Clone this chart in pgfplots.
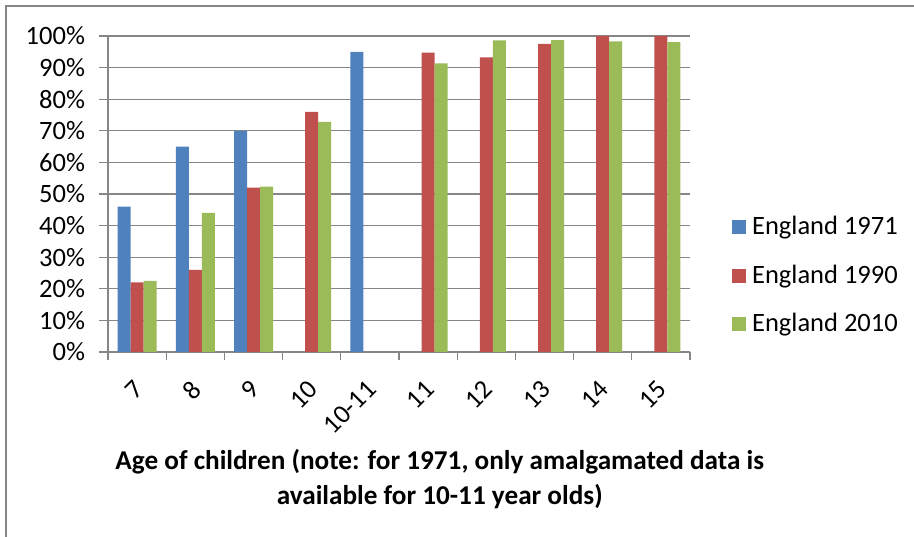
\documentclass[border=0pt]{standalone}
\usepackage{fontspec}
\setmainfont{Carlito}
\usepackage{pgfplots}
\pgfplotsset{compat=1.18}
\definecolor{e71}{RGB}{79,129,189}
\definecolor{e90}{RGB}{192,80,77}
\definecolor{e10}{RGB}{155,187,89}
\definecolor{gridc}{RGB}{134,134,134}
\pgfplotsset{sqlegend/.style={legend image code/.code={\fill[#1] (0bp,-7bp) rectangle (14bp,7bp);}}}
\begin{document}
\fontsize{26.5bp}{31.8bp}\selectfont
\begin{tikzpicture}
\path[use as bounding box] (0,0) rectangle (914bp,537bp);
\draw[gridc, line width=1.3bp] (6bp,0) -- (6bp,531bp) -- (914bp,531bp);
\begin{axis}[
  at={(108bp,185bp)}, anchor=south west,
  scale only axis, width=582bp, height=316bp,
  ybar=0pt, bar width=13bp, sqlegend,
  xmin=0, xmax=10, ymin=0, ymax=100,
  axis x line*=bottom, axis y line*=left,
  axis line style={gridc, line width=1.3bp},
  tick align=outside,
  ymajorgrids, grid style={gridc, line width=1.3bp},
  ytick={0,10,...,100},
  yticklabel={\pgfmathprintnumber{\tick}\%},
  /pgf/number format/assume math mode=true,
  major tick length=9bp, minor tick length=8bp,
  every tick/.style={gridc, line width=1.3bp},
  every major x tick/.style={draw=none},
  xtick={0.5,1.5,...,9.5},
  minor xtick={0,1,...,10},
  xticklabels={7,8,9,10,10-11,11,12,13,14,15},
  xticklabel style={yshift=-18bp, xshift=8bp, rotate=45, anchor=east},
  yticklabel style={xshift=-5bp},
  ticklabel style={font=\fontsize{26.5bp}{31.8bp}\selectfont},
  xlabel={Age of children (note: for 1971, only amalgamated data is\\available for 10-11 year olds)},
  xlabel style={at={(axis description cs:0.570,-0.402)}, anchor=center, align=center,
    font=\fontsize{27.2bp}{35bp}\selectfont\bfseries},
  legend cell align=left,
  legend style={draw=none, fill=none, at={(1.072,0.241)}, anchor=west,
    inner sep=0pt, row sep=26bp, font=\fontsize{26.5bp}{31.8bp}\selectfont,
    nodes={inner xsep=6bp, inner ysep=0pt}},
]
\addplot[fill=e71, draw=none] coordinates {(0.5,46) (1.5,65) (2.5,70) (4.5,95)};
\addplot[fill=e90, draw=none] coordinates {(0.5,22) (1.5,26) (2.5,52) (3.5,76) (5.5,94.7) (6.5,93.2) (7.5,97.5) (8.5,100) (9.5,100)};
\addplot[fill=e10, draw=none] coordinates {(0.5,22.5) (1.5,44) (2.5,52.3) (3.5,72.8) (5.5,91.3) (6.5,98.6) (7.5,98.7) (8.5,98.3) (9.5,98.1)};
\legend{England 1971, England 1990, England 2010}
\end{axis}
\end{tikzpicture}
\end{document}
